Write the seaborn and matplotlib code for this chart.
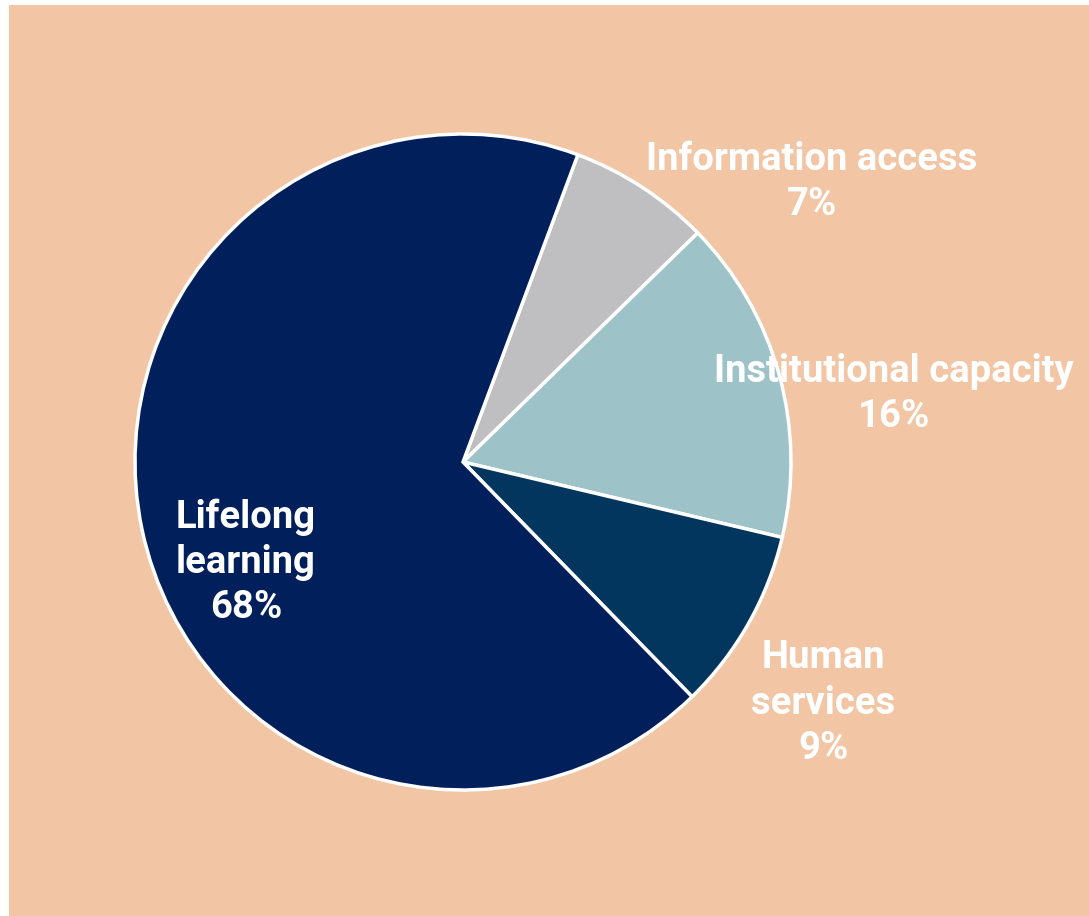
import matplotlib
matplotlib.use("Agg")
import matplotlib.pyplot as plt
import seaborn as sns
from matplotlib.patches import Rectangle

categories = ["Information access", "Institutional capacity", "Human services", "Lifelong learning"]
values = [7, 16, 9, 68]
label_texts = ["Information access\n7%", "Institutional capacity\n16%", "Human\nservices\n9%", "Lifelong\nlearning\n68%"]

sns.set_theme(style="white")
plt.rcParams['font.family'] = ['Roboto', 'DejaVu Sans']

colors = sns.color_palette(["#BFBFC1", "#9DC3C9", "#03365E", "#001F5B"])
BG = "#F2C5A5"

W, H = 1089, 916
fig = plt.figure(figsize=(W / 100, H / 100), dpi=100, facecolor="white")
fig.patches.append(Rectangle((9 / W, 0), 1 - 9 / W, 1 - 5 / H, transform=fig.transFigure,
                             facecolor=BG, edgecolor="none", zorder=-10))
ax = fig.add_axes([0, 0, 1, 1])
ax.set_zorder(5)
ax.set_facecolor("none")
ax.patch.set_alpha(0)
ax.set_xlim(0, W)
ax.set_ylim(0, H)
ax.set_aspect("equal")
ax.axis("off")

ax.pie(values, colors=colors, startangle=69.5, counterclock=False,
       radius=328, center=(463, H - 462),
       wedgeprops=dict(edgecolor="white", linewidth=2.5))
ax.set_xlim(0, W)
ax.set_ylim(0, H)

label_pos = [(812, 182), (894, 394), (823, 703), (246, 562)]
for txt, (x, y) in zip(label_texts, label_pos):
    ax.text(x, H - y, txt, ha="center", va="center", color="white",
            fontsize=27.5, fontweight="bold", linespacing=1.28)

fig.savefig("out.png", dpi=100, facecolor=fig.get_facecolor())
